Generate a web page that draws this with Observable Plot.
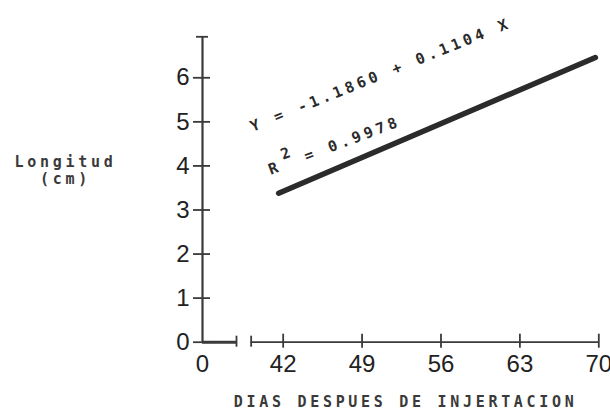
<!DOCTYPE html>
<html><head><meta charset="utf-8">
<script src="https://cdn.jsdelivr.net/npm/d3@7"></script>
<script src="https://cdn.jsdelivr.net/npm/@observablehq/plot@0.6"></script>
<style>body{margin:0;background:#fff} .mono text{letter-spacing:3.7px;white-space:pre}</style>
</head><body><div id="chart"></div>
<script>
// ---- data ----
const yTicks = [0, 1, 2, 3, 4, 5, 6];
const yTop = 6.93;
const xTicks = [42, 49, 56, 63, 70];
const xTickLabels = [0, 42, 49, 56, 63, 70];
const xBreak = [37.86, 39.16];          // ends of the broken x axis
const lineX = [41.6, 69.7];             // regression line, days
const lineY = [3.38, 6.46];             // regression line, cm
const equationText = "Y = -1.1860 + 0.1104 X";
const r2Text = "R  = 0.9978";
const annotations = [
  {text: equationText, x: 39.14, y: 4.876, rotate: -22},
  {text: r2Text, x: 40.74, y: 3.90, rotate: -20.6}
];
const superscript = {text: "2", x: 42.2, y: 4.28};
const xLabel = "DIAS DESPUES DE INJERTACION";
const yLabel = "Longitud\n(cm)";

const lineData = lineX.map((x, i) => ({x, y: lineY[i]}));
const axisInk = "#3a3a3a";
const textInk = "#222";
const mono = "DejaVu Sans Mono";

const chart = Plot.plot({
  width: 610, height: 412,
  marginLeft: 202, marginRight: 11.7, marginTop: 36, marginBottom: 70,
  x: {type: "linear", domain: [0, xBreak[0], 70], range: [202, 236, 598.3], axis: null},
  y: {domain: [0, yTop], range: [341.7, 36.3], axis: null},
  style: {background: "white", overflow: "visible"},
  marks: [
    Plot.ruleX([0], {x: d => d, y1: 0, y2: yTop, stroke: axisInk, strokeWidth: 2.2}),
    Plot.ruleY([yTop], {y: d => d, x1: 0, x2: 0, insetLeft: -6, insetRight: -6, stroke: axisInk, strokeWidth: 1.8}),
    Plot.ruleY(yTicks, {y: d => d, x1: 0, x2: 0, insetLeft: -9, insetRight: -8, stroke: axisInk, strokeWidth: 1.8}),
    Plot.ruleY([0], {y: d => d, x1: 0, x2: xBreak[0], stroke: axisInk, strokeWidth: 3}),
    Plot.ruleY([0], {y: d => d, x1: xBreak[1], x2: 70, stroke: axisInk, strokeWidth: 1.8}),
    Plot.ruleX(xBreak, {x: d => d, y1: 0, y2: 0, insetTop: -6, insetBottom: -5, stroke: axisInk, strokeWidth: 1.8}),
    Plot.ruleX(xTicks, {x: d => d, y1: 0, y2: 0, insetTop: -8, insetBottom: -6, stroke: axisInk, strokeWidth: 1.8}),
    Plot.text(yTicks, {x: 0, y: d => d, text: d => String(d), dx: -13, textAnchor: "end",
      fontFamily: "Liberation Sans", fontSize: 24, fill: textInk}),
    Plot.text(xTickLabels, {x: d => d, y: 0, text: d => String(d), dy: 22,
      fontFamily: "Liberation Sans", fontSize: 24, fill: textInk}),
    Plot.line(lineData, {x: "x", y: "y", stroke: "#2b2b2b", strokeWidth: 5.5, strokeLinecap: "round"}),
    Plot.text(annotations, {x: "x", y: "y", text: "text", rotate: d => d.rotate, textAnchor: "start",
      fontFamily: mono, fontWeight: "bold", fontSize: 15, fill: "#2a2a2a", className: "mono"}),
    Plot.text([superscript], {x: "x", y: "y", text: "text", rotate: -21,
      fontFamily: mono, fontWeight: "bold", fontSize: 15, fill: "#2a2a2a"}),
    Plot.text([xLabel], {frameAnchor: "bottom", text: d => d, dx: 5, dy: 59.5,
      textAnchor: "middle", lineAnchor: "middle",
      fontFamily: mono, fontWeight: "bold", fontSize: 15, fill: "#3a3a3a", className: "mono"}),
    Plot.text([yLabel], {frameAnchor: "left", text: d => d, dx: -137, dy: -19.3, lineHeight: 1.1,
      textAnchor: "middle", lineAnchor: "middle",
      fontFamily: mono, fontWeight: "bold", fontSize: 15, fill: "#3a3a3a", className: "mono"})
  ]
});
document.getElementById("chart").appendChild(chart);
</script>
</body></html>
